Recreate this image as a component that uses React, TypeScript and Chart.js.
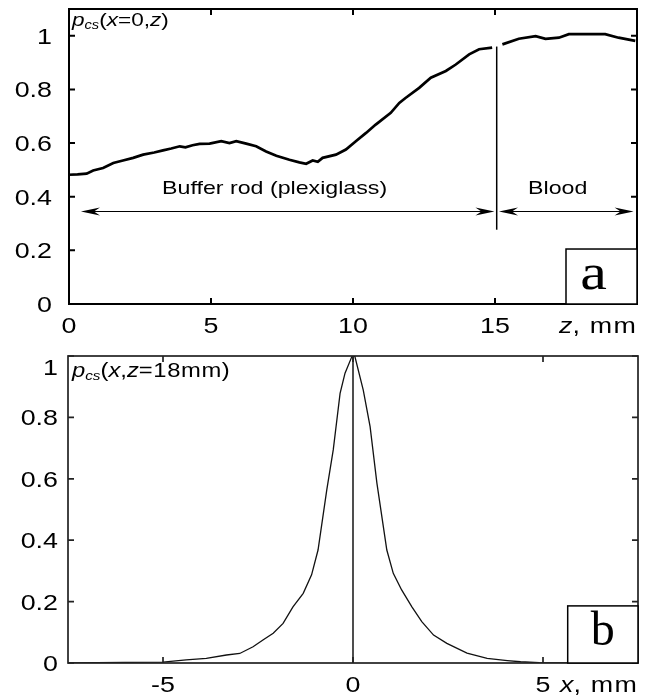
import React, { useEffect, useRef } from 'react';
import { Chart, registerables } from 'chart.js';

Chart.register(...registerables);

// ---------- Panel a: p_cs(x=0, z) ----------
const Z_BUFFER = [0, 0.3, 0.62, 0.85, 1.2, 1.56, 1.9, 2.26, 2.61, 3.0, 3.31, 3.6, 3.9, 4.1, 4.35, 4.6, 4.95, 5.36, 5.65, 5.89, 6.24, 6.59, 6.94, 7.3, 7.76, 8.11, 8.35, 8.58, 8.76, 8.93, 9.4, 9.75, 10.1, 10.46, 10.8, 11.33, 11.63, 11.86, 12.33, 12.74, 13.27, 13.62, 14.09, 14.44, 14.9];
const P_BUFFER = [0.482, 0.483, 0.486, 0.498, 0.507, 0.526, 0.535, 0.545, 0.557, 0.565, 0.573, 0.58, 0.588, 0.584, 0.592, 0.597, 0.598, 0.607, 0.6, 0.607, 0.598, 0.588, 0.569, 0.553, 0.538, 0.528, 0.523, 0.535, 0.53, 0.545, 0.557, 0.576, 0.607, 0.638, 0.669, 0.713, 0.75, 0.769, 0.806, 0.844, 0.869, 0.893, 0.931, 0.95, 0.956];
const Z_BLOOD = [15.26, 15.84, 16.43, 16.78, 17.25, 17.6, 18.18, 18.88, 19.35, 19.94];
const P_BLOOD = [0.968, 0.989, 0.999, 0.989, 0.993, 1.006, 1.006, 1.006, 0.993, 0.981];
const INTERFACE_Z = [15.06, 15.06];
const INTERFACE_P = [0.277, 0.96];
const Z_TICKS = [0, 5, 10, 15];
const P_TICKS_A = [0, 0.2, 0.4, 0.6, 0.8, 1];

// ---------- Panel b: p_cs(x, z=18mm) ----------
const X_MM = [-7.5, -6, -5, -4.39, -3.86, -3.33, -2.98, -2.63, -2.37, -2.1, -1.84, -1.58, -1.31, -1.09, -0.92, -0.69, -0.52, -0.34, -0.21, -0.03, 0, 0.05, 0.27, 0.45, 0.63, 0.89, 1.06, 1.28, 1.55, 1.81, 2.12, 2.47, 3.0, 3.53, 4.06, 4.41, 4.9, 6, 7.5];
const P_X = [0, 0.002, 0.003, 0.01, 0.015, 0.026, 0.031, 0.053, 0.075, 0.097, 0.129, 0.183, 0.227, 0.287, 0.368, 0.564, 0.694, 0.878, 0.944, 0.998, 1.0, 0.998, 0.889, 0.77, 0.585, 0.368, 0.292, 0.238, 0.183, 0.135, 0.091, 0.064, 0.032, 0.015, 0.008, 0.004, 0.001, 0, 0];
const CENTER_X = [0, 0];
const CENTER_P = [0, 1];
const X_TICKS = [-5, 0, 5];
const P_TICKS_B = [0, 0.2, 0.4, 0.6, 0.8, 1];

const SANS = "'Liberation Sans', Arial, Helvetica, sans-serif";
const SERIF = "'Liberation Serif', 'Times New Roman', serif";
const STRETCH = 1.22;

type Seg = { t: string; italic?: boolean; size: number; dy?: number; sp?: number };

function drawStr(ctx: CanvasRenderingContext2D, text: string, x: number, y: number, align: string, font: string, stretch: number, spacing = 0) {
  ctx.save();
  ctx.font = font;
  (ctx as any).letterSpacing = spacing + 'px';
  const w = ctx.measureText(text).width * stretch;
  const x0 = align === 'center' ? x - w / 2 : align === 'right' ? x - w : x;
  ctx.translate(x0, y);
  ctx.scale(stretch, 1);
  ctx.textAlign = 'left';
  ctx.textBaseline = 'alphabetic';
  ctx.fillText(text, 0, 0);
  ctx.restore();
  return w;
}

function segWidth(ctx: CanvasRenderingContext2D, segs: Seg[]) {
  let w = 0;
  for (const s of segs) {
    ctx.save();
    ctx.font = `${s.italic ? 'italic ' : ''}${s.size}px ${SANS}`;
    (ctx as any).letterSpacing = (s.sp || 0) + 'px';
    w += ctx.measureText(s.t).width * STRETCH;
    ctx.restore();
  }
  return w;
}

function drawSegs(ctx: CanvasRenderingContext2D, segs: Seg[], x: number, y: number) {
  let cx = x;
  for (const s of segs) {
    cx += drawStr(ctx, s.t, cx, y + (s.dy || 0), 'left', `${s.italic ? 'italic ' : ''}${s.size}px ${SANS}`, STRETCH, s.sp || 0);
  }
}

function arrowHead(ctx: CanvasRenderingContext2D, tipX: number, y: number, dir: number) {
  const L = 19, H = 4, N = 13;
  ctx.beginPath();
  ctx.moveTo(tipX, y);
  ctx.lineTo(tipX - dir * L, y - H);
  ctx.lineTo(tipX - dir * N, y);
  ctx.lineTo(tipX - dir * L, y + H);
  ctx.closePath();
  ctx.fill();
}

function doubleArrow(ctx: CanvasRenderingContext2D, x1: number, x2: number, y: number) {
  ctx.save();
  ctx.strokeStyle = '#000';
  ctx.fillStyle = '#000';
  ctx.lineWidth = 1.1;
  ctx.beginPath();
  ctx.moveTo(x1 + 6, y);
  ctx.lineTo(x2 - 6, y);
  ctx.stroke();
  arrowHead(ctx, x1, y, -1);
  arrowHead(ctx, x2, y, 1);
  ctx.restore();
}

type PanelCfg = {
  xTicks: number[];
  yTicks: number[];
  frameWidth: number;
  frameColor: string;
  yLabelGap: number;
  title: Seg[];
  titleDx: number;
  titleDy: number;
  axisTitle: Seg[];
  tag: string;
  tagFont: string;
  tagStretch: number;
  tagBaseline: number;
  tagDx: number;
  tagBox: { x0: number; x1: number; y1: number };
  extra?: (ctx: CanvasRenderingContext2D, chart: any) => void;
};

function panelPlugin(cfg: PanelCfg) {
  return {
    id: 'panelDecor',
    afterDatasetsDraw(chart: any) {
      const ctx: CanvasRenderingContext2D = chart.ctx;
      const a = chart.chartArea;
      const xs = chart.scales.x;
      const ys = chart.scales.y;
      ctx.save();
      ctx.fillStyle = '#000';
      ctx.strokeStyle = cfg.frameColor;
      ctx.lineWidth = cfg.frameWidth;
      // frame
      ctx.strokeRect(a.left, a.top, a.right - a.left, a.bottom - a.top);
      // inward ticks
      const TL = 6;
      ctx.beginPath();
      for (const v of cfg.xTicks) {
        const px = xs.getPixelForValue(v);
        ctx.moveTo(px, a.bottom); ctx.lineTo(px, a.bottom - TL);
        ctx.moveTo(px, a.top); ctx.lineTo(px, a.top + TL);
      }
      for (const v of cfg.yTicks) {
        const py = ys.getPixelForValue(v);
        ctx.moveTo(a.left, py); ctx.lineTo(a.left + TL, py);
        ctx.moveTo(a.right, py); ctx.lineTo(a.right - TL, py);
      }
      ctx.stroke();
      // tick labels
      const tickFont = `22px ${SANS}`;
      for (const v of cfg.xTicks) {
        drawStr(ctx, String(v), xs.getPixelForValue(v), a.bottom + 29, 'center', tickFont, STRETCH);
      }
      for (const v of cfg.yTicks) {
        const py = Math.max(ys.getPixelForValue(v) + 8, a.top + 19);
        drawStr(ctx, String(v), a.left - cfg.yLabelGap, py, 'right', tickFont, STRETCH);
      }
      // axis title
      const tw = segWidth(ctx, cfg.axisTitle);
      drawSegs(ctx, cfg.axisTitle, a.right - tw, a.bottom + 29);
      // panel title
      drawSegs(ctx, cfg.title, a.left + cfg.titleDx, a.top + cfg.titleDy);
      // tag box
      const bx0 = xs.getPixelForValue(cfg.tagBox.x0);
      const bx1 = xs.getPixelForValue(cfg.tagBox.x1);
      const by1 = ys.getPixelForValue(cfg.tagBox.y1);
      ctx.fillStyle = '#fff';
      ctx.fillRect(bx0, by1, bx1 - bx0, a.bottom - by1);
      ctx.strokeStyle = '#000';
      ctx.lineWidth = 1.5;
      ctx.strokeRect(bx0, by1, bx1 - bx0, a.bottom - by1);
      ctx.fillStyle = '#000';
      drawStr(ctx, cfg.tag, (bx0 + bx1) / 2 + cfg.tagDx, a.bottom - cfg.tagBaseline, 'center', cfg.tagFont, cfg.tagStretch);
      if (cfg.extra) cfg.extra(ctx, chart);
      ctx.restore();
    },
  };
}

function pts(xs: number[], ys: number[]) {
  return xs.map((x, i) => ({ x, y: ys[i] }));
}

function baseOptions(padding: any, xMin: number, xMax: number, yMax: number) {
  return {
    animation: false,
    responsive: false,
    events: [],
    layout: { padding },
    plugins: { legend: { display: false }, tooltip: { enabled: false } },
    scales: {
      x: { type: 'linear', min: xMin, max: xMax, display: false },
      y: { type: 'linear', min: 0, max: yMax, display: false },
    },
  };
}

export default function App() {
  const refA = useRef<HTMLCanvasElement>(null);
  const refB = useRef<HTMLCanvasElement>(null);

  useEffect(() => {
    const lineDs = (data: any[], w: number, color = '#000') => ({
      data, borderColor: color, borderWidth: w, pointRadius: 0, tension: 0, fill: false,
    });

    const chartA = new Chart(refA.current as HTMLCanvasElement, {
      type: 'line',
      data: {
        datasets: [
          lineDs(pts(Z_BUFFER, P_BUFFER), 2.7),
          lineDs(pts(Z_BLOOD, P_BLOOD), 2.7),
          lineDs(pts(INTERFACE_Z, INTERFACE_P), 1.5),
        ],
      },
      options: baseOptions({ left: 69, top: 9, right: 10, bottom: 36 }, 0, 20, 1.1) as any,
      plugins: [
        panelPlugin({
          xTicks: Z_TICKS,
          yTicks: P_TICKS_A,
          frameWidth: 2,
          frameColor: '#000',
          yLabelGap: 17,
          title: [
            { t: 'p', italic: true, size: 18.5 },
            { t: 'cs', italic: true, size: 12, dy: 3 },
            { t: '(', size: 18.5 },
            { t: 'x', italic: true, size: 18.5 },
            { t: '=0,', size: 18.5 },
            { t: 'z', italic: true, size: 18.5 },
            { t: ')', size: 18.5 },
          ],
          titleDx: 3,
          titleDy: 17,
          axisTitle: [
            { t: 'z', italic: true, size: 22 },
            { t: ', mm', size: 22, sp: 1 },
          ],
          tag: 'a',
          tagFont: `50px ${SERIF}`,
          tagStretch: 1.2,
          tagBaseline: 15,
          tagDx: -8,
          tagBox: { x0: 17.5, x1: 20, y1: 0.205 },
          extra: (ctx, chart) => {
            const xs = chart.scales.x;
            const ys = chart.scales.y;
            const yArrow = ys.getPixelForValue(0.345);
            doubleArrow(ctx, xs.getPixelForValue(0.42), xs.getPixelForValue(14.98), yArrow);
            doubleArrow(ctx, xs.getPixelForValue(15.14), xs.getPixelForValue(19.88), yArrow);
            const yText = ys.getPixelForValue(0.411);
            ctx.fillStyle = '#000';
            drawStr(ctx, 'Buffer rod (plexiglass)', xs.getPixelForValue(7.24), yText, 'center', `19px ${SANS}`, STRETCH);
            drawStr(ctx, 'Blood', xs.getPixelForValue(17.21), yText, 'center', `19px ${SANS}`, STRETCH);
          },
        }),
      ],
    } as any);

    const chartB = new Chart(refB.current as HTMLCanvasElement, {
      type: 'line',
      data: {
        datasets: [
          lineDs(pts(X_MM, P_X), 1.3, '#111'),
          lineDs(pts(CENTER_X, CENTER_P), 1.6, '#222'),
        ],
      },
      options: baseOptions({ left: 68, top: 16, right: 9, bottom: 35 }, -7.5, 7.5, 1) as any,
      plugins: [
        panelPlugin({
          xTicks: X_TICKS,
          yTicks: P_TICKS_B,
          frameWidth: 1.7,
          frameColor: '#222',
          yLabelGap: 10,
          title: [
            { t: 'p', italic: true, size: 19.5 },
            { t: 'cs', italic: true, size: 12.5, dy: 3 },
            { t: '(', size: 19.5 },
            { t: 'x', italic: true, size: 19.5 },
            { t: ',', size: 19.5 },
            { t: 'z', italic: true, size: 19.5 },
            { t: '=18mm)', size: 19.5, sp: 0.5 },
          ],
          titleDx: 4,
          titleDy: 21,
          axisTitle: [
            { t: 'x', italic: true, size: 22 },
            { t: ', mm', size: 22, sp: 1 },
          ],
          tag: 'b',
          tagFont: `48px ${SERIF}`,
          tagStretch: 1.0,
          tagBaseline: 18,
          tagDx: 0,
          tagBox: { x0: 5.65, x1: 7.5, y1: 0.186 },
        }),
      ],
    } as any);

    return () => {
      chartA.destroy();
      chartB.destroy();
    };
  }, []);

  return (
    <div style={{ position: 'absolute', left: 0, top: 0, width: 647, height: 698, background: '#fff' }}>
      <canvas ref={refA} width={647} height={340} style={{ position: 'absolute', left: 0, top: 0, width: 647, height: 340 }} />
      <canvas ref={refB} width={647} height={358} style={{ position: 'absolute', left: 0, top: 340, width: 647, height: 358 }} />
    </div>
  );
}
